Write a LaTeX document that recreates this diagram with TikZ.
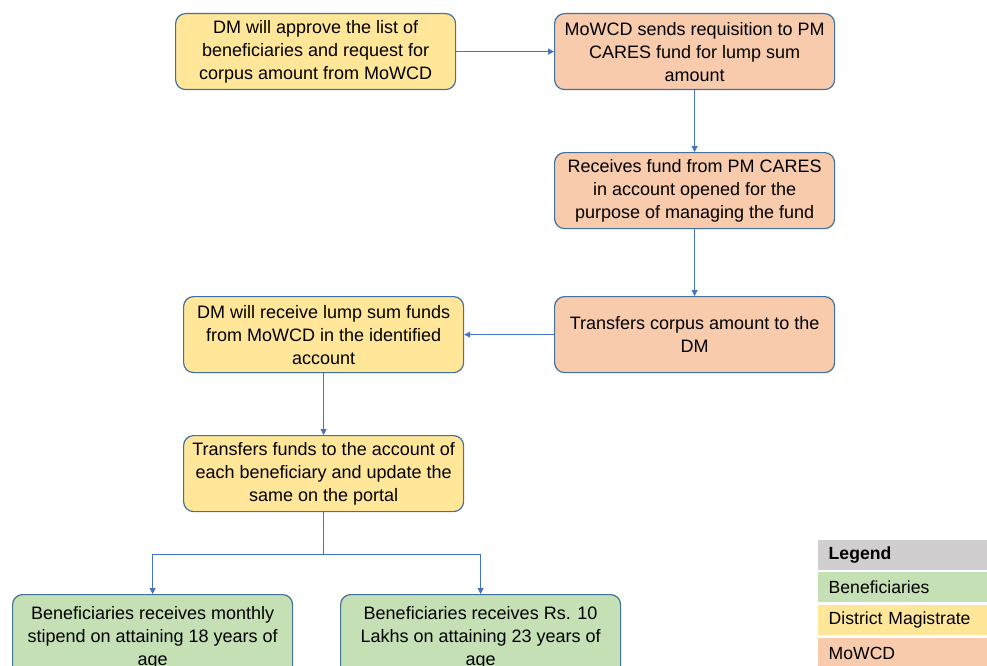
\documentclass[tikz,border=0pt]{standalone}
\usepackage{fontspec}
\setmainfont{Liberation Sans}
\usetikzlibrary{arrows.meta,calc}
\definecolor{dmfill}{HTML}{FFE699}
\definecolor{mofill}{HTML}{F8CBAD}
\definecolor{befill}{HTML}{C5E0B4}
\definecolor{lgfill}{HTML}{D0CECE}
\definecolor{edge}{HTML}{41719C}
\definecolor{arr}{HTML}{4472C4}
\tikzset{
  x=1pt, y=-1pt,
  box/.style={draw=edge, line width=1.2pt, rounded corners=10pt, minimum width=280pt, minimum height=76pt,
    text width=265pt, align=flush center, inner sep=0pt,
    font=\fontsize{18}{23}\selectfont, anchor=north west},
  dm/.style={box, fill=dmfill},
  mo/.style={box, fill=mofill},
  be/.style={box, fill=befill, minimum height=86pt},
  conn/.style={draw=arr, line width=0.8pt, -{Triangle[length=6pt,width=6pt]}},
  leg/.style={anchor=north west, minimum width=169pt, minimum height=30pt, inner sep=0pt, text width=160pt,
    align=left, font=\fontsize{17.6}{20}\selectfont},
}
\begin{document}
\begin{tikzpicture}
\useasboundingbox (0,0) rectangle (987,666);
\clip (0,0) rectangle (987,666);
\node[dm] (a) at (175,13) {DM will approve the list of beneficiaries and request for corpus amount from MoWCD};
\node[mo] (b) at (554,13) {MoWCD sends requisition to PM CARES fund for lump sum amount};
\node[mo] (c) at (554,152) {Receives fund from PM CARES in account opened for the purpose of managing the fund};
\node[mo] (d) at (554,296) {Transfers corpus amount to the DM};
\node[dm] (e) at (183,296) {DM will receive lump sum funds from MoWCD in the identified account};
\node[dm] (f) at (183,435) {Transfers funds to the account of each beneficiary and update the same on the portal};
\node[be] (g) at (12,594) {Beneficiaries receives monthly stipend on attaining 18 years of age};
\node[be] (h) at (340,594) {Beneficiaries receives Rs. 10 Lakhs on attaining 23 years of age};
\draw[conn] (a.east) -- (b.west);
\draw[conn] (b.south) -- (c.north);
\draw[conn] (c.south) -- (d.north);
\draw[conn] (d.west) -- (e.east);
\draw[conn] (e.south) -- (f.north);
\coordinate (j) at ($(f.south)+(0,42)$);
\draw[conn] (f.south) -- (j) -| (g.north);
\draw[conn] (j) -| (h.north);
\node[leg, fill=lgfill, font=\fontsize{17.6}{20}\selectfont\bfseries] (l0) at (818,540) {\hspace*{6pt}Legend};
\node[leg, fill=befill] (l1) at (818,572) {\hspace*{6pt}Beneficiaries};
\node[leg, fill=dmfill] (l2) at (818,605) {\hspace*{6pt}District Magistrate};
\node[leg, fill=mofill] (l3) at (818,638) {\hspace*{6pt}MoWCD};
\end{tikzpicture}
\end{document}
